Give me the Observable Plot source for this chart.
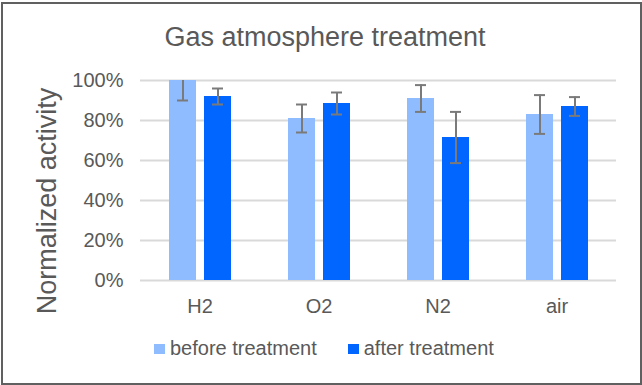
<!DOCTYPE html>
<html>
<head>
<meta charset="utf-8">
<script src="https://cdn.jsdelivr.net/npm/d3@7"></script>
<script src="https://cdn.jsdelivr.net/npm/@observablehq/plot@0.6"></script>
<style>
  html, body { margin: 0; padding: 0; background: #fff; }
  #wrap { position: relative; width: 642px; height: 385px; overflow: hidden; background: #fff;
          font-family: "Liberation Sans", Arial, sans-serif; color: #595959; }
  #frame { position: absolute; left: 1px; top: 2px; width: 637px; height: 379px;
           border: 2px solid #606060; box-shadow: 1px 1px 1px #aaa; pointer-events: none; }
  #title { position: absolute; left: 0; width: 650px; top: 21px; text-align: center; font-size: 27px; line-height: 32px; }
  #ylab { position: absolute; left: 47px; top: 201px; font-size: 27px; white-space: nowrap;
          transform: translate(-50%, -50%) rotate(-90deg); line-height: 30px; }
  #legend { position: absolute; top: 337px; left: 154px; font-size: 20px; display: flex; align-items: center; }
  .sw { display: inline-block; width: 11px; height: 10px; margin-right: 5px; }
  .item { display: flex; align-items: center; margin-right: 31px; }
  svg { position: absolute; left: 0; top: 0; }
</style>
</head>
<body>
<div id="wrap">
  <div id="title">Gas atmosphere treatment</div>
  <div id="ylab">Normalized activity</div>
  <div id="legend"></div>
  <div id="frame"></div>
</div>
<script>
const gases = ["H2", "O2", "N2", "air"];
const seriesNames = ["before treatment", "after treatment"];
const seriesColors = ["#8fbcff", "#0066ff"];
const beforeValues = [1.00, 0.81, 0.91, 0.83];
const afterValues = [0.92, 0.885, 0.715, 0.87];
const beforeErrors = [0.10, 0.07, 0.067, 0.097];
const afterErrors = [0.04, 0.055, 0.128, 0.047];
const yTicks = [0, 0.2, 0.4, 0.6, 0.8, 1.0];

const rows = [];
gases.forEach((g, i) => {
  rows.push({gas: g, series: seriesNames[0], value: beforeValues[i], err: beforeErrors[i]});
  rows.push({gas: g, series: seriesNames[1], value: afterValues[i], err: afterErrors[i]});
});

const chart = Plot.plot({
  width: 642,
  height: 385,
  marginLeft: 140,
  marginRight: 26,
  marginTop: 80,
  marginBottom: 105,
  style: {fontSize: "20px", fontFamily: "'Liberation Sans', Arial, sans-serif", color: "#595959", background: "transparent"},
  fx: {domain: gases, paddingInner: 0, paddingOuter: 0, axis: "bottom", tickSize: 0, tickPadding: 18, label: null},
  x: {domain: seriesNames, paddingInner: 0.229, paddingOuter: 0.814, axis: null},
  y: {domain: [0, 1], ticks: yTicks, tickFormat: d3.format(".0%"), tickSize: 0, tickPadding: 17, label: null},
  color: {domain: seriesNames, range: seriesColors},
  marks: [
    Plot.gridY(yTicks, {stroke: "#d9d9d9", strokeOpacity: 1, strokeWidth: 2}),
    Plot.barY(rows, {fx: "gas", x: "series", y: "value", fill: "series"}),
    Plot.ruleX(rows, {fx: "gas", x: "series", y1: d => d.value - d.err, y2: d => d.value + d.err, stroke: "#7a7a7a", strokeWidth: 2, clip: true}),
    Plot.tickY(rows, {fx: "gas", x: "series", y: d => d.value - d.err, stroke: "#7a7a7a", strokeWidth: 2, insetLeft: 8, insetRight: 8, clip: true}),
    Plot.tickY(rows, {fx: "gas", x: "series", y: d => d.value + d.err, stroke: "#7a7a7a", strokeWidth: 2, insetLeft: 8, insetRight: 8, clip: true})
  ]
});
document.getElementById("wrap").insertBefore(chart, document.getElementById("title"));

const legend = document.getElementById("legend");
seriesNames.forEach((name, i) => {
  const item = document.createElement("span");
  item.className = "item";
  const sw = document.createElement("span");
  sw.className = "sw";
  sw.style.background = seriesColors[i];
  item.appendChild(sw);
  item.appendChild(document.createTextNode(name));
  legend.appendChild(item);
});
</script>
</body>
</html>
